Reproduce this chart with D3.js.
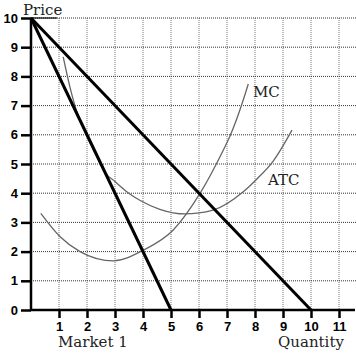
<!DOCTYPE html>
<html>
<head>
<meta charset="utf-8">
<script src="https://cdn.jsdelivr.net/npm/d3@7"></script>
<style>
  body { margin: 0; background: #fff; }
  svg { display: block; }
</style>
</head>
<body>
<div id="graph"></div>
<script>
// data
const xTicks = [1, 2, 3, 4, 5, 6, 7, 8, 9, 10, 11];
const yTicks = [0, 1, 2, 3, 4, 5, 6, 7, 8, 9, 10];

// demand lines [quantity, price]
const demandA = [[0, 10], [10, 0]];
const demandB = [[0, 10], [5, 0]];

const mcQ = [0.35, 1.04, 1.75, 2.94, 4.01, 5.08, 6.04, 6.87, 7.1, 7.58, 7.76];
const mcP = [3.31, 2.51, 2.0, 1.68, 2.05, 2.74, 4.0, 5.48, 5.94, 7.19, 7.74];

const atcQ = [1.15, 1.4, 1.65, 2.0, 2.35, 2.65, 3.0, 3.42, 3.9, 4.6, 5.5, 6.5, 7.58, 8.06, 8.65, 9.32];
const atcP = [8.67, 7.6, 6.75, 5.95, 5.25, 4.7, 4.4, 4.05, 3.75, 3.45, 3.29, 3.42, 4.05, 4.48, 5.1, 6.16];

const width = 356;
const height = 353;

const svg = d3.select("#graph")
              .append("svg")
              .attr("width", width)
              .attr("height", height);

const xScale = d3.scaleLinear()
                 .domain([0, 11])
                 .range([31, 339]);

const yScale = d3.scaleLinear()
                 .domain([0, 10])
                 .range([310, 18]);

// grid
svg.selectAll(".vgrid")
   .data(xTicks)
   .enter()
   .append("line")
   .attr("x1", d => xScale(d))
   .attr("x2", d => xScale(d))
   .attr("y1", yScale(10))
   .attr("y2", yScale(0))
   .attr("stroke", "#777")
   .attr("stroke-width", 1)
   .attr("stroke-dasharray", "1,1");

svg.selectAll(".hgrid")
   .data(yTicks.slice(1))
   .enter()
   .append("line")
   .attr("x1", xScale(0))
   .attr("x2", width)
   .attr("y1", d => yScale(d))
   .attr("y2", d => yScale(d))
   .attr("stroke", "#333")
   .attr("stroke-width", 1)
   .attr("stroke-dasharray", "1,1");

// short solid piece under "Price"
svg.append("line")
   .attr("x1", xScale(0))
   .attr("x2", 57)
   .attr("y1", yScale(10))
   .attr("y2", yScale(10))
   .attr("stroke", "#000")
   .attr("stroke-width", 1.2);

// axes
const xAxis = d3.axisBottom(xScale)
                .tickValues(xTicks)
                .tickSize(8)
                .tickSizeOuter(0);

const yAxis = d3.axisLeft(yScale)
                .tickValues(yTicks)
                .tickSize(10)
                .tickSizeOuter(0);

const gx = svg.append("g")
              .attr("transform", "translate(0," + yScale(0) + ")")
              .call(xAxis);

const gy = svg.append("g")
              .attr("transform", "translate(" + xScale(0) + ",0)")
              .call(yAxis);

gx.select(".domain").remove();
gy.select(".domain").remove();

[gx, gy].forEach(g => {
  g.selectAll(".tick line")
   .attr("stroke", "#000")
   .attr("stroke-width", 2.5);
  g.selectAll(".tick text")
   .attr("fill", "#000")
   .style("font-family", "Liberation Sans, Arial, sans-serif")
   .style("font-weight", "bold")
   .style("font-size", "13px");
});

gx.selectAll(".tick text").attr("y", 12).attr("dy", "0.71em");
gy.selectAll(".tick text").attr("x", -13);

svg.append("line")
   .attr("x1", xScale(0))
   .attr("x2", width - 1)
   .attr("y1", yScale(0))
   .attr("y2", yScale(0))
   .attr("stroke", "#000")
   .attr("stroke-width", 2.5);

svg.append("line")
   .attr("x1", xScale(0))
   .attr("x2", xScale(0))
   .attr("y1", yScale(10))
   .attr("y2", yScale(0) + 1)
   .attr("stroke", "#000")
   .attr("stroke-width", 2.5);

// cost curves
const curve = d3.line()
                .x(d => xScale(d[0]))
                .y(d => yScale(d[1]))
                .curve(d3.curveMonotoneX);

svg.append("path")
   .datum(mcQ.map((q, i) => [q, mcP[i]]))
   .attr("d", curve)
   .attr("fill", "none")
   .attr("stroke", "#666")
   .attr("stroke-width", 1.3);

svg.append("path")
   .datum(atcQ.map((q, i) => [q, atcP[i]]))
   .attr("d", curve)
   .attr("fill", "none")
   .attr("stroke", "#666")
   .attr("stroke-width", 1.3);

// demand lines
const straight = d3.line()
                   .x(d => xScale(d[0]))
                   .y(d => yScale(d[1]));

[demandA, demandB].forEach(d => {
  svg.append("path")
     .datum(d)
     .attr("d", straight)
     .attr("fill", "none")
     .attr("stroke", "#000")
     .attr("stroke-width", 3);
});

// labels
const label = (x, y, t) => svg.append("text")
                               .attr("x", x)
                               .attr("y", y)
                               .text(t)
                               .style("font-family", "DejaVu Serif, serif")
                               .style("font-size", "15px")
                               .attr("fill", "#222");

label(23, 15, "Price");
label(58, 347, "Market 1");
label(278, 347, "Quantity");
label(253, 97, "MC");
label(268, 185, "ATC");
</script>
</body>
</html>
